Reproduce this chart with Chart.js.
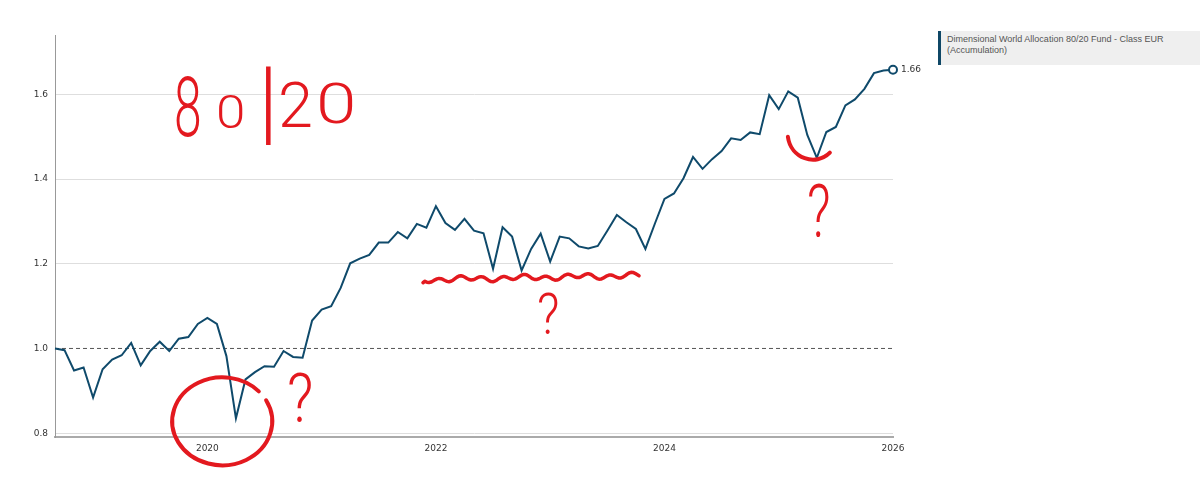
<!DOCTYPE html>
<html>
<head>
<meta charset="utf-8">
<script src="https://cdn.jsdelivr.net/npm/chart.js@4.4.1/dist/chart.umd.min.js"></script>
<style>
  body { margin: 0; background: #fff; }
  #wrap { position: relative; width: 1200px; height: 477px; }
  #legend {
    position: absolute; left: 938px; top: 31px; width: 253px; height: 31px;
    background: #efefef; border-left: 3px solid #0f4766;
    padding: 3px 0 0 6px;
    font: 9px "Liberation Sans", Arial, sans-serif; color: #555; line-height: 11px;
  }
</style>
</head>
<body>
<div id="wrap">
  <canvas id="fundChart" width="1200" height="477"></canvas>
  <div id="legend">Dimensional World Allocation 80/20 Fund - Class EUR<br>(Accumulation)</div>
</div>
<script>
// --- Data: month-end growth of 1 (Aug 2018 = 1.00) ---
const values2018 = [1.000, 0.996, 0.948, 0.955, 0.884];   // Aug - Dec
const values2019 = [0.951, 0.974, 0.984, 1.013, 0.960, 0.994, 1.016, 0.994, 1.023, 1.027, 1.058, 1.072];
const values2020 = [1.058, 0.982, 0.835, 0.927, 0.944, 0.958, 0.957, 0.994, 0.980, 0.978, 1.066, 1.092];
const values2021 = [1.100, 1.143, 1.201, 1.212, 1.221, 1.250, 1.250, 1.275, 1.260, 1.294, 1.285, 1.336];
const values2022 = [1.296, 1.280, 1.306, 1.278, 1.272, 1.188, 1.286, 1.264, 1.184, 1.235, 1.271, 1.205];
const values2023 = [1.264, 1.260, 1.241, 1.236, 1.242, 1.278, 1.315, 1.298, 1.282, 1.235, 1.295, 1.353];
const values2024 = [1.366, 1.402, 1.452, 1.424, 1.447, 1.466, 1.496, 1.492, 1.510, 1.506, 1.598, 1.565];
const values2025 = [1.607, 1.592, 1.504, 1.450, 1.511, 1.523, 1.574, 1.588, 1.613, 1.650, 1.656, 1.658];

const years = [2018, 2019, 2020, 2021, 2022, 2023, 2024, 2025];
const firstMonths = [8, 1, 1, 1, 1, 1, 1, 1];
const yearValues = [values2018, values2019, values2020, values2021, values2022, values2023, values2024, values2025];

const xTicks = [2020, 2022, 2024, 2026];
const yTicks = [0.8, 1.0, 1.2, 1.4, 1.6];
const baseline = 1.0;
const seriesName = 'Dimensional World Allocation 80/20 Fund - Class EUR (Accumulation)';

// --- Build points (x = fractional year at month end) ---
const points = [];
years.forEach((yr, i) => {
    yearValues[i].forEach((v, j) => {
        points.push({ x: yr + (firstMonths[i] + j) / 12, y: v });
    });
});
const xMin = points[0].x;
const xMax = 2026;
const lastIndex = points.length - 1;

// label next to the last point
const endLabel = {
    id: 'endLabel',
    afterDatasetsDraw(chart) {
        const pt = chart.getDatasetMeta(0).data[lastIndex];
        const ctx = chart.ctx;
        ctx.save();
        ctx.fillStyle = '#333';
        ctx.font = '9px "DejaVu Sans"';
        ctx.textAlign = 'left';
        ctx.textBaseline = 'middle';
        ctx.fillText(points[lastIndex].y.toFixed(2), pt.x + 8, pt.y);
        ctx.restore();
    }
};

// red hand-drawn notes on top of the chart
const notes = {
    id: 'notes',
    afterDraw(chart) {
        const { ctx, scales: { x, y } } = chart;
        const red = '#e3191f';
        ctx.save();
        ctx.fillStyle = red;
        ctx.strokeStyle = red;
        ctx.lineWidth = 4;
        ctx.lineCap = 'round';
        ctx.lineJoin = 'round';
        ctx.textBaseline = 'alphabetic';

        function glyph(txt, px, py, size, sx) {
            ctx.save();
            ctx.translate(px, py);
            ctx.scale(sx, 1);
            ctx.font = '300 ' + size + 'px Roboto';
            ctx.fillText(txt, 0, 0);
            ctx.restore();
        }
        // "80|20"
        glyph('8', 174, 136, 83, 0.6);
        glyph('0', 216, 128, 46, 1.15);
        glyph('|', 258, 133, 92, 1);
        glyph('2', 278, 127, 63, 1);
        glyph('0', 316, 123, 56, 1.3);

        // question marks
        glyph('?', 287, 422, 68, 0.85);
        glyph('?', 537, 334, 58, 0.85);
        glyph('?', 807, 237, 74, 0.7);

        // circle around the 2020 dip
        const cx = x.getPixelForValue(2020.13);
        const cy = y.getPixelForValue(0.828);
        ctx.beginPath();
        ctx.ellipse(cx, cy, 50, 44, 0, -0.5, Math.PI * 2 - 0.75);
        ctx.stroke();

        // wavy line under the 2022-2023 range
        ctx.lineWidth = 3.5;
        const wy = y.getPixelForValue(1.2) + 16;
        ctx.beginPath();
        for (let px = 423; px <= 640; px += 2) {
            const t = px - 423;
            const py = wy + 2.2 * Math.sin(t / 3.4) + 1.2 * Math.sin(t / 9) - t * 0.02;
            if (px === 423) ctx.moveTo(px, py + 3); else ctx.lineTo(px, py);
        }
        ctx.stroke();

        // smile under the 2025 dip
        ctx.lineWidth = 4;
        const sx0 = x.getPixelForValue(2025.08);
        const sy0 = y.getPixelForValue(1.5);
        ctx.beginPath();
        ctx.moveTo(sx0, sy0);
        ctx.bezierCurveTo(sx0 + 3, sy0 + 22, sx0 + 28, sy0 + 30, sx0 + 42, sy0 + 16);
        ctx.stroke();

        ctx.restore();
    }
};

const ctx = document.getElementById('fundChart').getContext('2d');
new Chart(ctx, {
    type: 'line',
    data: {
        datasets: [{
            label: seriesName,
            data: points,
            borderColor: '#0f4a6b',
            borderWidth: 2,
            tension: 0,
            clip: false,
            pointRadius: c => (c.dataIndex === lastIndex ? 4 : 0),
            pointBorderWidth: 2,
            pointBorderColor: '#0f4a6b',
            pointBackgroundColor: '#fff',
            pointHoverRadius: 0
        }, {
            label: 'baseline',
            data: [{ x: xMin, y: baseline }, { x: xMax, y: baseline }],
            borderColor: '#555',
            borderWidth: 1,
            borderDash: [4, 3],
            pointRadius: 0
        }]
    },
    options: {
        responsive: false,
        animation: false,
        layout: { padding: { top: 35, right: 307, left: 0, bottom: 0 } },
        plugins: {
            legend: { display: false },
            tooltip: { enabled: false }
        },
        scales: {
            x: {
                type: 'linear',
                min: xMin,
                max: xMax,
                afterBuildTicks: s => { s.ticks = xTicks.map(v => ({ value: v })); },
                afterFit: s => { s.height = 40; },
                grid: { drawOnChartArea: false, drawTicks: false },
                border: { color: '#aaa', width: 2 },
                ticks: {
                    padding: 6,
                    color: '#333',
                    font: { family: 'DejaVu Sans', size: 9 },
                    maxRotation: 0,
                    callback: v => String(v)
                }
            },
            y: {
                min: 0.791,
                max: 1.74,
                afterBuildTicks: s => { s.ticks = yTicks.map(v => ({ value: v })); },
                afterFit: s => { s.width = 55; },
                grid: {
                    drawTicks: false,
                    color: c => (c.tick && Math.abs(c.tick.value - baseline) < 1e-9 ? 'rgba(0,0,0,0)' : '#dedede')
                },
                border: { color: '#999', width: 1 },
                ticks: {
                    padding: 7,
                    color: '#333',
                    font: { family: 'DejaVu Sans', size: 9 },
                    callback: v => v.toFixed(1)
                }
            }
        }
    },
    plugins: [endLabel, notes]
});
</script>
</body>
</html>
